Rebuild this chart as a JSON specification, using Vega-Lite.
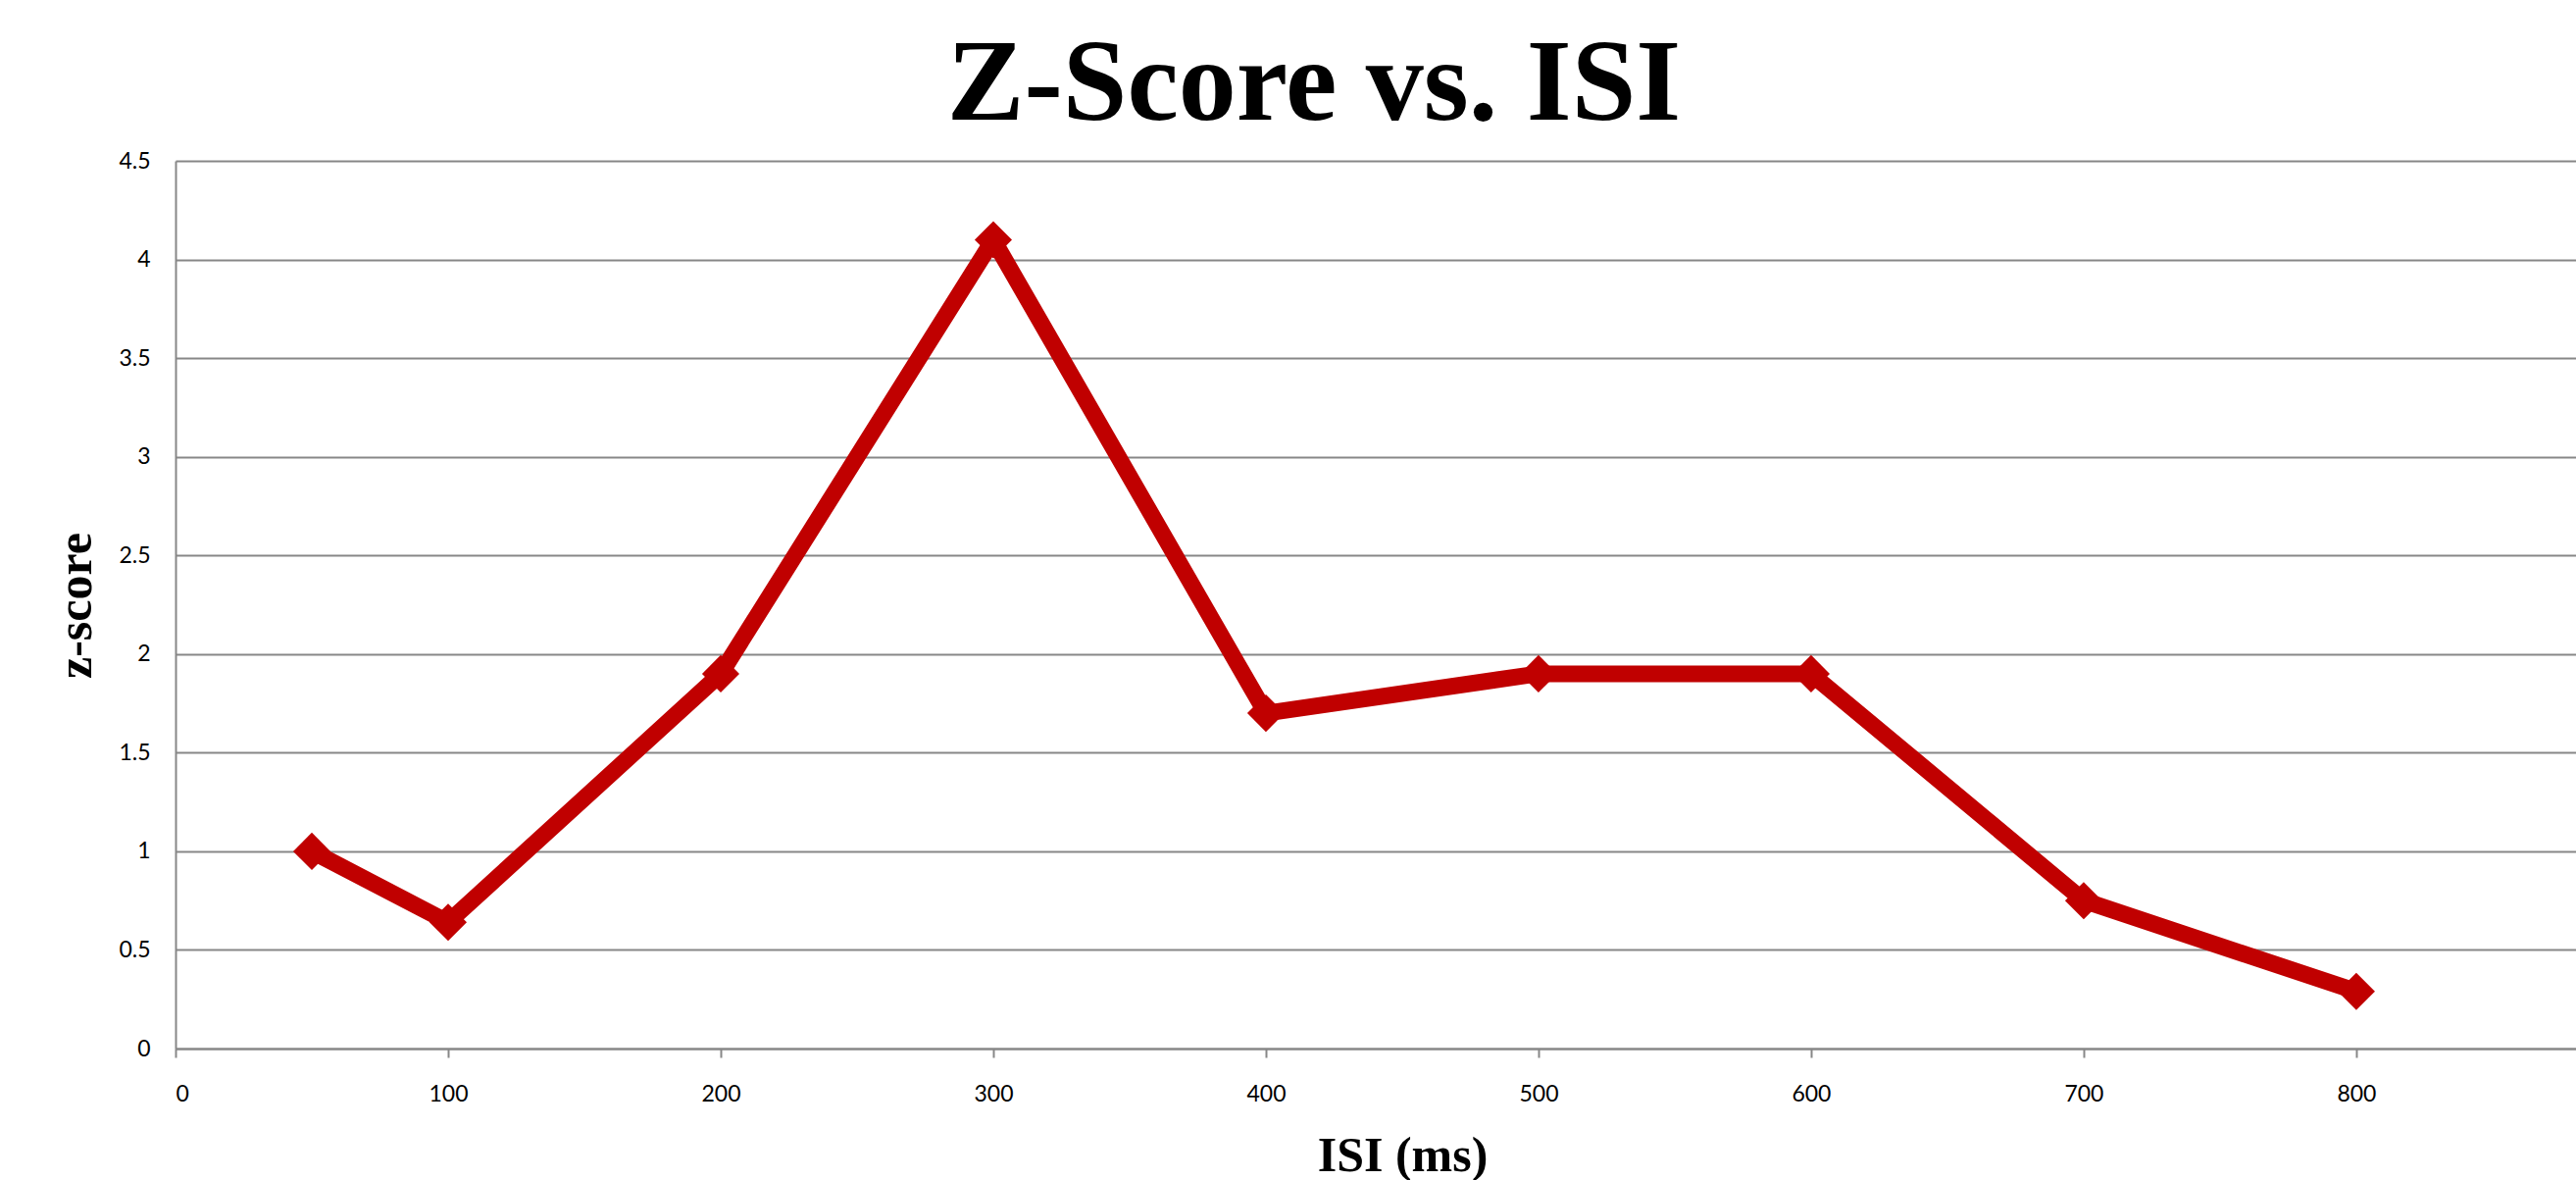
{
  "$schema": "https://vega.github.io/schema/vega-lite/v6.json",
  "autosize": {"type": "none"},
  "width": 2448,
  "height": 905,
  "padding": {"left": 179, "top": 164, "right": 0, "bottom": 134},
  "background": "white",
  "title": {
    "text": "Z-Score vs. ISI",
    "font": "Liberation Serif",
    "fontWeight": "bold",
    "fontSize": 118,
    "color": "#000000",
    "anchor": "middle",
    "frame": "group",
    "baseline": "bottom",
    "offset": 10,
    "dx": -63,
    "dy": 122
  },
  "data": {
    "values": [
      {"isi": 50, "z": 1.0},
      {"isi": 100, "z": 0.64},
      {"isi": 200, "z": 1.9},
      {"isi": 300, "z": 4.1},
      {"isi": 400, "z": 1.7},
      {"isi": 500, "z": 1.9},
      {"isi": 600, "z": 1.9},
      {"isi": 700, "z": 0.75},
      {"isi": 800, "z": 0.29}
    ]
  },
  "encoding": {
    "x": {
      "field": "isi",
      "type": "quantitative",
      "scale": {"domain": [0, 880.6], "nice": false, "zero": false},
      "axis": {
        "title": "ISI (ms)",
        "values": [0, 100, 200, 300, 400, 500, 600, 700, 800],
        "grid": false,
        "domainColor": "#878787",
        "domainWidth": 2,
        "tickColor": "#878787",
        "tickWidth": 2,
        "tickSize": 9,
        "labelPadding": 26,
        "labelFont": "Lato",
        "labelFontSize": 23,
        "labelColor": "#000000",
        "titleFont": "Liberation Serif",
        "titleFontWeight": "bold",
        "titleFontSize": 50,
        "titleColor": "#000000",
        "titleX": 1251,
        "titleY": 124,
        "titleBaseline": "alphabetic",
        "titleAlign": "center"
      }
    },
    "y": {
      "field": "z",
      "type": "quantitative",
      "scale": {"domain": [0, 4.5], "nice": false},
      "axis": {
        "title": "z-score",
        "values": [0, 0.5, 1, 1.5, 2, 2.5, 3, 3.5, 4, 4.5],
        "format": "~g",
        "grid": true,
        "gridColor": "#878787",
        "gridWidth": 2,
        "ticks": false,
        "domainColor": "#878787",
        "domainWidth": 2,
        "labelPadding": 26,
        "labelFont": "Lato",
        "labelFontSize": 23,
        "labelColor": "#000000",
        "titleFont": "Liberation Serif",
        "titleFontWeight": "bold",
        "titleFontSize": 50,
        "titleColor": "#000000",
        "titleAngle": -90,
        "titleX": -87,
        "titleY": 453,
        "titleBaseline": "alphabetic",
        "titleAlign": "center"
      }
    }
  },
  "layer": [
    {"mark": {"type": "line", "color": "#C00000", "strokeWidth": 17, "strokeJoin": "miter"}},
    {"mark": {"type": "point", "shape": "diamond", "filled": true, "color": "#C00000", "size": 1450, "opacity": 1}}
  ],
  "config": {"view": {"stroke": null}}
}
